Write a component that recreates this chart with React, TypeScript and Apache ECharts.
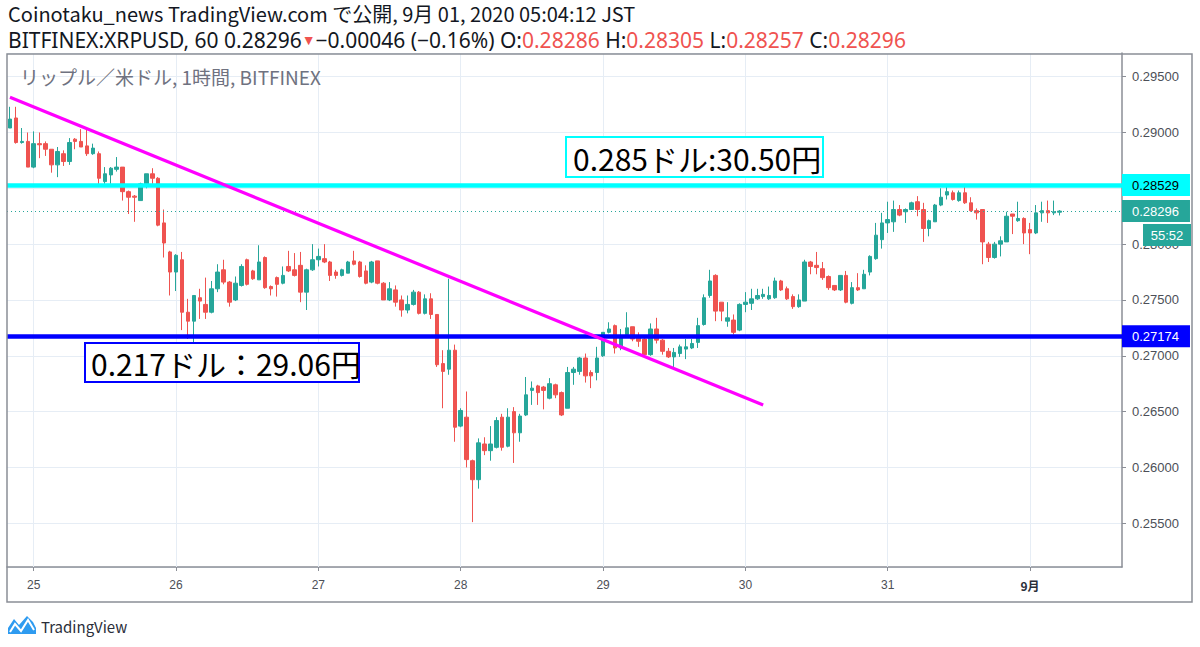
import React, { useEffect, useRef } from "react";
import * as echarts from "echarts";

// ---- time categories: hourly bars from 2020-08-24 20:00 (JST) ----
const startUtc = Date.UTC(2020, 7, 24, 20);
const hourCount = 188;
const categories: string[] = [];
for (let i = 0; i < hourCount; i++) {
  const d = new Date(startUtc + i * 3600000);
  const mm = String(d.getUTCMonth() + 1).padStart(2, "0");
  const dd = String(d.getUTCDate()).padStart(2, "0");
  const hh = String(d.getUTCHours()).padStart(2, "0");
  categories.push(`${mm}-${dd} ${hh}:00`);
}
const dayCategories = categories.filter((c) => c.endsWith(" 00:00"));

// ---- OHLC values (XRPUSD, 1h) ----
const opens = [
  0.2904, 0.2913, 0.2891, 0.2892, 0.2869, 0.289, 0.289, 0.2885, 0.2871, 0.2881,
  0.2874, 0.2894, 0.2892, 0.2888, 0.2881, 0.2881, 0.2856, 0.2862, 0.2867, 0.2869,
  0.2847, 0.2843, 0.2839, 0.2854, 0.2863, 0.2859, 0.2819, 0.2793, 0.2775, 0.2786,
  0.2739, 0.2731, 0.2752, 0.2746, 0.2739, 0.276, 0.2777, 0.2766, 0.275, 0.2763,
  0.2786, 0.2776, 0.2768, 0.2788, 0.2762, 0.277, 0.2765, 0.278, 0.2777, 0.2781,
  0.2757, 0.2777, 0.2786, 0.2787, 0.2784, 0.2775, 0.2772, 0.2774, 0.2785, 0.2784,
  0.2776, 0.2766, 0.2785, 0.2765, 0.275, 0.2759, 0.275, 0.2741, 0.2746, 0.2757,
  0.2738, 0.2751, 0.2737, 0.2693, 0.2688, 0.2705, 0.2637, 0.2645, 0.2606, 0.2589,
  0.2621, 0.2615, 0.2618, 0.2645, 0.2619, 0.265, 0.2631, 0.2647, 0.2669, 0.2673,
  0.2672, 0.2662, 0.2674, 0.2667, 0.2653, 0.2685, 0.2686, 0.2698, 0.2685, 0.2685,
  0.27, 0.2721, 0.2727, 0.2707, 0.2719, 0.2726, 0.2716, 0.2715, 0.2701, 0.2724,
  0.2714, 0.2704, 0.2699, 0.2702, 0.2706, 0.2707, 0.2712, 0.2728, 0.2754, 0.2772,
  0.2748, 0.2731, 0.2732, 0.2723, 0.2746, 0.2747, 0.2751, 0.2753, 0.2751, 0.2752,
  0.2767, 0.276, 0.2753, 0.2744, 0.2749, 0.2784, 0.2781, 0.2778, 0.2771, 0.2763,
  0.2759, 0.2772, 0.2747, 0.2761, 0.276, 0.2775, 0.2787, 0.2804, 0.2819, 0.282,
  0.2831, 0.2829, 0.2831, 0.2838, 0.2831, 0.2814, 0.282, 0.2835, 0.2844, 0.2846,
  0.2839, 0.2846, 0.2837, 0.283, 0.2831, 0.28, 0.2788, 0.28, 0.2802, 0.2827,
  0.2821, 0.2823, 0.2813, 0.281, 0.2828, 0.283, 0.2828, 0.28286,
];
const highs = [
  0.2923, 0.2923, 0.2904, 0.29, 0.2901, 0.29, 0.2892, 0.2885, 0.2887, 0.2884,
  0.2895, 0.2895, 0.2903, 0.2903, 0.289, 0.2883, 0.2869, 0.2869, 0.2878, 0.2869,
  0.2848, 0.2844, 0.2855, 0.2863, 0.2868, 0.286, 0.2831, 0.2794, 0.2791, 0.2793,
  0.2751, 0.2754, 0.276, 0.277, 0.2767, 0.2782, 0.2786, 0.2767, 0.2771, 0.2782,
  0.2787, 0.2777, 0.2799, 0.2789, 0.2763, 0.2771, 0.278, 0.2794, 0.2792, 0.2793,
  0.2778, 0.28, 0.2796, 0.28, 0.2785, 0.2777, 0.2778, 0.2785, 0.2794, 0.2785,
  0.2781, 0.2785, 0.2785, 0.2766, 0.2766, 0.2763, 0.2754, 0.2754, 0.2759, 0.2758,
  0.2755, 0.2756, 0.2737, 0.2705, 0.2769, 0.271, 0.2653, 0.2668, 0.2607, 0.2626,
  0.2627, 0.2637, 0.2645, 0.2648, 0.2653, 0.2654, 0.2648, 0.2681, 0.2677, 0.2674,
  0.2673, 0.268, 0.2675, 0.2668, 0.269, 0.269, 0.2699, 0.2702, 0.2687, 0.2708,
  0.2721, 0.273, 0.2728, 0.2724, 0.2739, 0.2726, 0.2721, 0.2716, 0.2729, 0.2734,
  0.2715, 0.2707, 0.2707, 0.271, 0.2715, 0.2715, 0.2734, 0.2755, 0.2777, 0.2773,
  0.2748, 0.2748, 0.2737, 0.2747, 0.2757, 0.276, 0.276, 0.276, 0.2762, 0.277,
  0.2768, 0.2762, 0.2755, 0.2755, 0.2786, 0.2785, 0.2793, 0.2784, 0.2772, 0.2763,
  0.2772, 0.2776, 0.2766, 0.2774, 0.2777, 0.279, 0.2819, 0.2828, 0.2838, 0.2839,
  0.2835, 0.2832, 0.2838, 0.2843, 0.2837, 0.2822, 0.2836, 0.285, 0.2854, 0.2848,
  0.2848, 0.2854, 0.2842, 0.2832, 0.2831, 0.2802, 0.2802, 0.2807, 0.2829, 0.2827,
  0.2838, 0.2824, 0.2819, 0.2835, 0.2838, 0.2839, 0.2839, 0.28305,
];
const lows = [
  0.2904, 0.289, 0.289, 0.2869, 0.2868, 0.2877, 0.2879, 0.2864, 0.286, 0.287,
  0.2871, 0.2885, 0.2887, 0.2879, 0.288, 0.2854, 0.2854, 0.2854, 0.2865, 0.2839,
  0.2827, 0.282, 0.2839, 0.285, 0.2854, 0.2816, 0.2788, 0.2754, 0.2758, 0.2723,
  0.2715, 0.2707, 0.2733, 0.2733, 0.2738, 0.2757, 0.2764, 0.2744, 0.2749, 0.2762,
  0.2763, 0.2768, 0.2768, 0.276, 0.2754, 0.2753, 0.2764, 0.2775, 0.2771, 0.2748,
  0.2741, 0.2776, 0.278, 0.2783, 0.2767, 0.2769, 0.2771, 0.2774, 0.2781, 0.277,
  0.2764, 0.2765, 0.2764, 0.275, 0.2749, 0.2744, 0.2735, 0.2738, 0.2745, 0.2737,
  0.2737, 0.2733, 0.269, 0.2653, 0.2683, 0.2623, 0.2636, 0.26, 0.2551, 0.2581,
  0.2611, 0.2606, 0.2617, 0.2615, 0.2618, 0.2604, 0.2623, 0.2646, 0.2656, 0.2656,
  0.2652, 0.2661, 0.2662, 0.2646, 0.2653, 0.2674, 0.2683, 0.2676, 0.2671, 0.2678,
  0.2699, 0.272, 0.2702, 0.2705, 0.2718, 0.2713, 0.2708, 0.27, 0.27, 0.2711,
  0.2701, 0.2698, 0.269, 0.2699, 0.2697, 0.2706, 0.2707, 0.2727, 0.2752, 0.2731,
  0.2731, 0.2726, 0.2719, 0.2722, 0.2739, 0.2741, 0.275, 0.2751, 0.275, 0.2751,
  0.2758, 0.275, 0.2742, 0.2743, 0.2749, 0.2773, 0.2773, 0.2768, 0.2759, 0.2758,
  0.2758, 0.2747, 0.2746, 0.2758, 0.276, 0.2772, 0.2786, 0.2796, 0.281, 0.2811,
  0.2825, 0.2819, 0.2831, 0.2825, 0.2802, 0.2807, 0.282, 0.2834, 0.284, 0.2839,
  0.2838, 0.2836, 0.2829, 0.2822, 0.2782, 0.2784, 0.2787, 0.2789, 0.2802, 0.2809,
  0.282, 0.28, 0.2791, 0.2809, 0.282, 0.2819, 0.2826, 0.28257,
];
const closes = [
  0.2912, 0.2891, 0.2892, 0.2869, 0.289, 0.2889, 0.2885, 0.2871, 0.2883, 0.2874,
  0.2891, 0.2892, 0.2887, 0.2881, 0.2886, 0.2859, 0.2863, 0.2868, 0.2869, 0.2847,
  0.2842, 0.2842, 0.2854, 0.2863, 0.2859, 0.2817, 0.2801, 0.2775, 0.279, 0.2739,
  0.2731, 0.2754, 0.2749, 0.2739, 0.276, 0.2775, 0.2766, 0.2748, 0.2765, 0.278,
  0.2764, 0.2769, 0.2784, 0.2761, 0.276, 0.2764, 0.2772, 0.2776, 0.2772, 0.2757,
  0.2777, 0.2786, 0.2789, 0.2784, 0.2772, 0.2772, 0.2777, 0.2784, 0.2782, 0.2771,
  0.2765, 0.2784, 0.2765, 0.275, 0.276, 0.2748, 0.2741, 0.2746, 0.2757, 0.2738,
  0.2751, 0.2737, 0.2692, 0.2686, 0.2705, 0.2636, 0.2651, 0.2607, 0.2589, 0.2622,
  0.2615, 0.2621, 0.2642, 0.2618, 0.2645, 0.2631, 0.2646, 0.2665, 0.2671, 0.2667,
  0.2669, 0.2675, 0.2665, 0.2647, 0.2685, 0.2688, 0.2698, 0.2682, 0.2682, 0.2698,
  0.2721, 0.2724, 0.2707, 0.2718, 0.2725, 0.2715, 0.2713, 0.2701, 0.2724, 0.2714,
  0.2704, 0.2699, 0.2703, 0.2708, 0.2708, 0.2711, 0.2727, 0.2752, 0.2767, 0.274,
  0.274, 0.2734, 0.2721, 0.2746, 0.2748, 0.2751, 0.2754, 0.2755, 0.2754, 0.2767,
  0.2759, 0.2751, 0.2744, 0.275, 0.2784, 0.278, 0.2779, 0.277, 0.2761, 0.2759,
  0.2772, 0.2748, 0.2761, 0.2759, 0.2773, 0.2789, 0.2808, 0.2819, 0.2822, 0.2831,
  0.2826, 0.2831, 0.2837, 0.2831, 0.2814, 0.2821, 0.2835, 0.2842, 0.2847, 0.284,
  0.2846, 0.2837, 0.283, 0.2828, 0.2802, 0.2788, 0.28, 0.2803, 0.2825, 0.2825,
  0.2823, 0.281, 0.281, 0.2828, 0.283, 0.2828, 0.2829, 0.28296,
];

// ---- reference levels & trend line ----
const resistance = 0.28529;
const support = 0.27174;
const lastPrice = 0.28296;
const trendStart: [number, number] = [0, 0.29316];
const trendEnd: [number, number] = [127, 0.2656];
const coveredTick = 0.285; // axis label hidden behind the resistance price tag

// ---- texts ----
const headerLine1 = "Coinotaku_news TradingView.com で公開, 9月 01, 2020 05:04:12 JST";
const subtitle = "リップル／米ドル, 1時間, BITFINEX";
const resistanceNote = "0.285ドル:30.50円";
const supportNote = "0.217ドル：29.06円";
const countdown = "55:52";

const UP = "#26a69a";
const DOWN = "#ef5350";
const GRID = "#e6edf5";
const AXIS = "#8b8e96";
const CJK = "'Noto Sans CJK JP', 'Noto Sans', sans-serif";
const LATIN = "'Noto Sans', 'Noto Sans CJK JP', sans-serif";
const NUM = "'Liberation Sans', Arial, sans-serif";

const isDay = (_: number, v: string) => v.endsWith(" 00:00");

function buildOption() {
  const candles = opens.map((o, i) => [o, closes[i], lows[i], highs[i]]);
  const priceLabel = (bg: string, fg: string, text: string) => ({
    show: true,
    position: "end",
    distance: 0,
    formatter: text,
    backgroundColor: bg,
    color: fg,
    fontSize: 13,
    fontFamily: NUM,
    lineHeight: 15,
    padding: [4, 11, 3, 10],
  });
  return {
    animation: false,
    backgroundColor: "#ffffff",
    grid: { left: 7, top: 53, right: 78, bottom: 80 },
    xAxis: {
      type: "category",
      data: categories,
      boundaryGap: true,
      axisLine: { show: true, lineStyle: { color: AXIS, width: 1.5 } },
      axisTick: { show: true, interval: isDay, alignWithLabel: true, length: 4, lineStyle: { color: AXIS } },
      axisLabel: {
        interval: isDay,
        margin: 12,
        color: "#4c4f57",
        fontSize: 12,
        fontFamily: NUM,
        formatter: (v: string) => {
          const d = v.split(" ")[0].split("-")[1];
          return d === "01" ? "{b|9月}" : String(Number(d));
        },
        rich: { b: { fontWeight: "bold", color: "#2a2e39", fontSize: 12, fontFamily: CJK } },
      },
      splitLine: { show: false },
    },
    yAxis: {
      type: "value",
      position: "right",
      min: 0.25108,
      max: 0.29712,
      splitNumber: 9,
      minInterval: 0.005,
      maxInterval: 0.005,
      axisLine: { show: true, lineStyle: { color: AXIS, width: 1.5 } },
      axisTick: { show: true, length: 4, lineStyle: { color: AXIS } },
      axisLabel: {
        margin: 10,
        color: "#4c4f57",
        fontSize: 13,
        fontFamily: NUM,
        showMinLabel: false,
        showMaxLabel: false,
        formatter: (v: number) => (Math.abs(v - coveredTick) < 1e-9 ? "" : v.toFixed(5)),
      },
      splitLine: { show: true, lineStyle: { color: GRID, width: 1 } },
    },
    series: [
      {
        type: "line",
        data: [],
        z: 1,
        silent: true,
        markLine: {
          z: 1,
          silent: true,
          symbol: ["none", "none"],
          label: { show: false },
          lineStyle: { color: GRID, width: 1, type: "solid" },
          data: dayCategories.map((c) => ({ xAxis: c })),
        },
      },
      {
        type: "candlestick",
        z: 2,
        barWidth: 4,
        data: candles,
        itemStyle: {
          color: UP,
          color0: DOWN,
          borderColor: UP,
          borderColor0: DOWN,
          borderWidth: 1,
        },
        markLine: {
          silent: true,
          precision: 5,
          symbol: ["none", "none"],
          data: [
            {
              yAxis: lastPrice,
              lineStyle: { color: UP, width: 1, type: [1, 3] },
              label: priceLabel(UP, "#ffffff", lastPrice.toFixed(5)),
            },
            {
              yAxis: resistance,
              lineStyle: { color: "#00ffff", width: 4.5, type: "solid" },
              label: priceLabel("#00ffff", "#000000", resistance.toFixed(5)),
            },
            {
              yAxis: support,
              lineStyle: { color: "#0000ff", width: 4.5, type: "solid" },
              label: priceLabel("#0000ff", "#ffffff", support.toFixed(5)),
            },
            [
              { coord: trendStart, lineStyle: { color: "#ff00ff", width: 3.2, type: "solid" }, label: { show: false } },
              { coord: trendEnd },
            ],
          ],
        },
      },
    ],
    graphic: [
      {
        type: "text",
        x: 8,
        y: 13,
        style: { text: headerLine1, fill: "#131722", fontSize: 20, lineHeight: 20, fontFamily: CJK, verticalAlign: "middle" },
      },
      {
        type: "text",
        x: 8,
        y: 40,
        style: {
          text:
            "{k|BITFINEX:XRPUSD, 60 0.28296}{t|▼}{k|−0.00046 (−0.16%) O:}{r|0.28286}{k| H:}{r|0.28305}{k| L:}{r|0.28257}{k| C:}{r|0.28296}",
          verticalAlign: "middle",
          lineHeight: 20,
          rich: {
            k: { fill: "#131722", fontSize: 21, lineHeight: 20, fontFamily: LATIN },
            r: { fill: DOWN, fontSize: 21, lineHeight: 20, fontFamily: LATIN },
            t: { fill: DOWN, fontSize: 14, lineHeight: 20, fontFamily: NUM },
          },
        },
      },
      {
        type: "text",
        x: 20,
        y: 76,
        z: 50,
        style: { text: subtitle, fill: "#6f7280", fontSize: 19, fontFamily: CJK, verticalAlign: "middle" },
      },
      {
        type: "rect",
        z: 60,
        shape: { x: 7, y: 54, width: 1185, height: 548 },
        style: { fill: "none", stroke: AXIS, lineWidth: 1.5 },
      },
      {
        type: "rect",
        z: 60,
        shape: { x: 566, y: 137, width: 257, height: 40 },
        style: { fill: "#ffffff", stroke: "#00ffff", lineWidth: 2 },
      },
      {
        type: "text",
        z: 61,
        x: 573,
        y: 158,
        style: { text: resistanceNote, fill: "#000000", fontSize: 30, fontFamily: CJK, verticalAlign: "middle" },
      },
      {
        type: "rect",
        z: 60,
        shape: { x: 85, y: 343, width: 274, height: 39 },
        style: { fill: "#ffffff", stroke: "#0000ff", lineWidth: 2 },
      },
      {
        type: "text",
        z: 61,
        x: 91,
        y: 363,
        style: { text: supportNote, fill: "#000000", fontSize: 30, fontFamily: CJK, verticalAlign: "middle" },
      },
      {
        type: "rect",
        z: 60,
        shape: { x: 1143, y: 224, width: 48, height: 22 },
        style: { fill: UP, stroke: "none" },
      },
      {
        type: "text",
        z: 61,
        x: 1167,
        y: 235,
        style: { text: countdown, fill: "#ffffff", fontSize: 13, fontFamily: NUM, align: "center", verticalAlign: "middle" },
      },
      {
        type: "polygon",
        z: 60,
        shape: {
          points: [
            [8, 634], [8, 628], [14, 619], [19, 625], [27, 616], [33, 622], [36, 628], [36, 634],
          ],
        },
        style: { fill: "#2e9bf0" },
      },
      {
        type: "polyline",
        z: 61,
        shape: { points: [[10, 632], [15, 624], [21, 631], [28, 620], [34, 630]] },
        style: { stroke: "#ffffff", lineWidth: 2, fill: "none" },
      },
      {
        type: "text",
        z: 60,
        x: 41,
        y: 626,
        style: { text: "TradingView", fill: "#2a2e39", fontSize: 15, fontFamily: CJK, verticalAlign: "middle" },
      },
    ],
  };
}

export default function App() {
  const ref = useRef<HTMLDivElement>(null);
  useEffect(() => {
    document.body.style.margin = "0";
    if (!ref.current) return;
    const chart = echarts.init(ref.current, null, { renderer: "svg" });
    chart.setOption(buildOption() as any);
    return () => chart.dispose();
  }, []);
  return <div ref={ref} style={{ width: 1200, height: 647, background: "#fff" }} />;
}
